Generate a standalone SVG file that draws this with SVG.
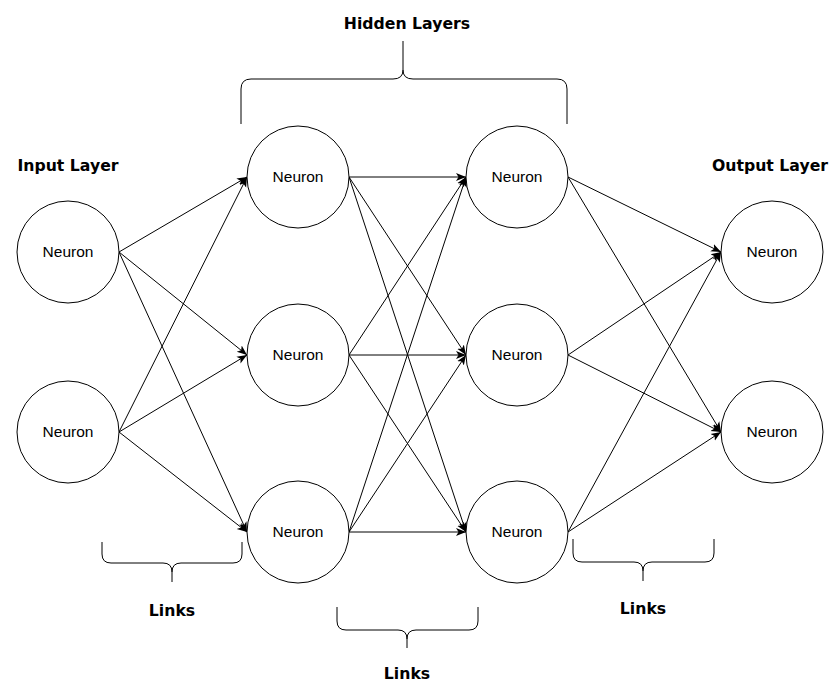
<svg xmlns="http://www.w3.org/2000/svg" width="832" height="684" viewBox="0 0 832 684">
<style>
.n{fill:#fff;stroke:#000;stroke-width:1}
.t{font-family:"Liberation Sans",Arial,sans-serif;font-size:15.5px;fill:#000;text-anchor:middle}
.h{font-family:"DejaVu Sans",Verdana,sans-serif;font-size:15.7px;font-weight:bold;fill:#000;text-anchor:middle}
.e{stroke:#000;stroke-width:1;fill:none;marker-end:url(#a)}
.b{stroke:#000;stroke-width:1;fill:none}
</style>
<defs>
<marker id="a" markerUnits="userSpaceOnUse" markerWidth="12" markerHeight="10" refX="10" refY="4" orient="auto" viewBox="0 0 12 8">
<path d="M0,0 L10,4 L0,8 L2.5,4 Z" fill="#000"/>
</marker>
</defs>
<rect width="832" height="684" fill="#fff"/>
<g id="connectors">
<line class="e" x1="119" y1="252" x2="247" y2="177"/>
<line class="e" x1="119" y1="252" x2="247" y2="355"/>
<line class="e" x1="119" y1="252" x2="247" y2="532"/>
<line class="e" x1="119" y1="432" x2="247" y2="177"/>
<line class="e" x1="119" y1="432" x2="247" y2="355"/>
<line class="e" x1="119" y1="432" x2="247" y2="532"/>
<line class="e" x1="349" y1="177" x2="466" y2="177"/>
<line class="e" x1="349" y1="177" x2="466" y2="355"/>
<line class="e" x1="349" y1="177" x2="466" y2="532"/>
<line class="e" x1="349" y1="355" x2="466" y2="177"/>
<line class="e" x1="349" y1="355" x2="466" y2="355"/>
<line class="e" x1="349" y1="355" x2="466" y2="532"/>
<line class="e" x1="349" y1="532" x2="466" y2="177"/>
<line class="e" x1="349" y1="532" x2="466" y2="355"/>
<line class="e" x1="349" y1="532" x2="466" y2="532"/>
<line class="e" x1="568" y1="177" x2="721" y2="252"/>
<line class="e" x1="568" y1="177" x2="721" y2="432"/>
<line class="e" x1="568" y1="355" x2="721" y2="252"/>
<line class="e" x1="568" y1="355" x2="721" y2="432"/>
<line class="e" x1="568" y1="532" x2="721" y2="252"/>
<line class="e" x1="568" y1="532" x2="721" y2="432"/>
</g>
<g id="in1"><circle class="n" cx="68" cy="252" r="51"/><text class="t" x="68" y="257">Neuron</text></g>
<g id="in2"><circle class="n" cx="68" cy="432" r="51"/><text class="t" x="68" y="437">Neuron</text></g>
<g id="h11"><circle class="n" cx="298" cy="177" r="51"/><text class="t" x="298" y="182">Neuron</text></g>
<g id="h12"><circle class="n" cx="298" cy="355" r="51"/><text class="t" x="298" y="360">Neuron</text></g>
<g id="h13"><circle class="n" cx="298" cy="532" r="51"/><text class="t" x="298" y="537">Neuron</text></g>
<g id="h21"><circle class="n" cx="517" cy="177" r="51"/><text class="t" x="517" y="182">Neuron</text></g>
<g id="h22"><circle class="n" cx="517" cy="355" r="51"/><text class="t" x="517" y="360">Neuron</text></g>
<g id="h23"><circle class="n" cx="517" cy="532" r="51"/><text class="t" x="517" y="537">Neuron</text></g>
<g id="out1"><circle class="n" cx="772" cy="252" r="51"/><text class="t" x="772" y="257">Neuron</text></g>
<g id="out2"><circle class="n" cx="772" cy="432" r="51"/><text class="t" x="772" y="437">Neuron</text></g>
<g id="labels">
<text class="h" x="68" y="171">Input Layer</text>
<text class="h" x="770" y="171">Output Layer</text>
<text class="h" x="407" y="29">Hidden Layers</text>
<text class="h" x="172" y="616">Links</text>
<text class="h" x="407" y="679">Links</text>
<text class="h" x="643" y="614">Links</text>
</g>
<g id="braces">
<path class="b" d="M241,124 V89 Q241,79 251,79 H393 Q403,79 403,70 V41 M403,70 Q403,79 413,79 H557 Q567,79 567,89 V124"/>
<path class="b" d="M102,542 V554 Q102,563 111,563 H163 Q172,563 172,572 V582 M172,572 Q172,563 181,563 H233 Q242,563 242,554 V542"/>
<path class="b" d="M337,607 V621 Q337,630 346,630 H398 Q407,630 407,639 V648 M407,639 Q407,630 416,630 H469 Q478,630 478,621 V607"/>
<path class="b" d="M573,539 V553 Q573,562 582,562 H634 Q643,562 643,571 V581 M643,571 Q643,562 652,562 H705 Q714,562 714,553 V539"/>
</g>
</svg>
